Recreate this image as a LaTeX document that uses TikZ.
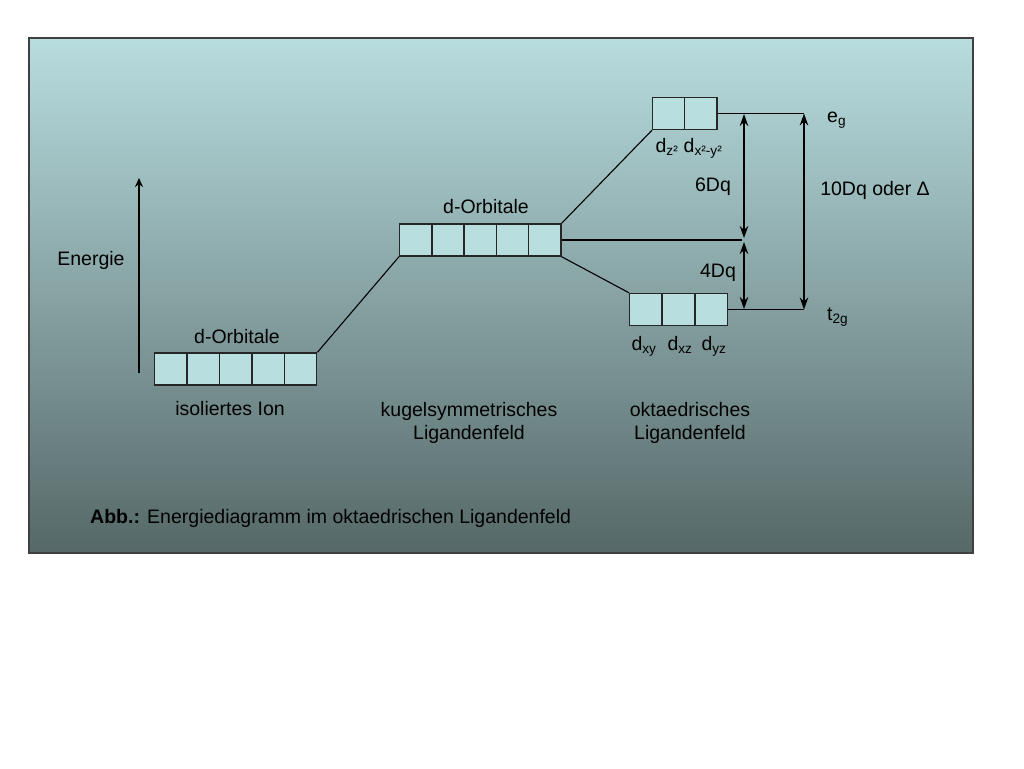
\documentclass[tikz,border=0pt]{standalone}
\usepackage{fontspec}
\setmainfont{Liberation Sans}
\usetikzlibrary{arrows.meta,positioning}
\definecolor{panelTop}{HTML}{B8DDDF}
\definecolor{panelBottom}{HTML}{566868}
\definecolor{cellFill}{HTML}{B9DEE0}
\tikzstyle{cell} = [rectangle, draw=black!85, fill=cellFill, line width=1.4pt, minimum width=32.4pt, minimum height=32pt, inner sep=0pt, anchor=west]
\tikzstyle{arrow} = [line width=1.6pt, ->, >={Stealth[length=9pt,width=8pt]}]
\tikzstyle{dblarrow} = [line width=1.6pt, <->, >={Stealth[length=12pt,width=8.5pt]}]
\tikzstyle{link} = [line width=1.1pt, -]
\tikzstyle{txt} = [font=\fontsize{19.5}{23}\selectfont, inner sep=0pt, text=black, align=center]
\begin{document}
\begin{tikzpicture}[x=1pt, y=-1pt]
\useasboundingbox (0,0) rectangle (1024,768);
\shade[top color=panelTop, bottom color=panelBottom] (29,38) rectangle (973,553);
\draw[black!75, line width=1.2pt] (29,38) rectangle (973,553);
\foreach \i in {1,...,5} \node (iso_\i) [cell] at ({154+32.4*(\i-1)},369) {};
\foreach \i in {1,...,5} \node (kug_\i) [cell] at ({399+32.2*(\i-1)},240) {};
\foreach \i in {1,2} \node (eg_\i) [cell] at ({652+32*(\i-1)},113.5) {};
\foreach \i in {1,2,3} \node (t2g_\i) [cell] at ({629+32.7*(\i-1)},309.5) {};
\coordinate (kug_end) at (742,240);
\coordinate (eg_end) at (804,113.5);
\coordinate (t2g_end) at (804,309.5);
\coordinate (e_low) at (139,373);
\coordinate (e_high) at (139,178);
\draw [link] (iso_5.north east) -- (kug_1.south west);
\draw [link] (kug_5.north east) -- (eg_1.south west);
\draw [link] (kug_5.south east) -- (t2g_1.north west);
\draw [link] (kug_5.east) -- (kug_end);
\draw [link] (eg_2.east) -- (eg_end);
\draw [link] (t2g_3.east) -- (t2g_end);
\draw [arrow] (e_low) -- (e_high);
\draw [dblarrow] (744,114) -- (744,238);
\draw [dblarrow] (744,242) -- (744,309);
\draw [dblarrow] (eg_end) -- (t2g_end);
\node (energie) [txt] at (91,260) {Energie};
\node (iso_lbl) [txt] at (237,337) {d-Orbitale};
\node (iso_name) [txt] at (230,409) {isoliertes Ion};
\node (kug_lbl) [txt] at (486,207) {d-Orbitale};
\node (kug_name) [txt] at (469,423) {kugelsymmetrisches\\Ligandenfeld};
\node (okt_name) [txt] at (690,423) {oktaedrisches\\Ligandenfeld};
\node (dz2) [txt, anchor=base] at (667,152) {d\textsubscript{z²}};
\node (dx2y2) [txt, anchor=base] at (703,152) {d\textsubscript{x²-y²}};
\node (dxy) [txt, anchor=base] at (644,350) {d\textsubscript{xy}};
\node (dxz) [txt, anchor=base] at (680,350) {d\textsubscript{xz}};
\node (dyz) [txt, anchor=base] at (714,350) {d\textsubscript{yz}};
\node (six_dq) [txt] at (713,187) {6Dq};
\node (four_dq) [txt] at (718,273) {4Dq};
\node (ten_dq) [txt] at (875,190) {10Dq oder Δ};
\node (eg_lbl) [txt, anchor=base west] at (827,122) {e\textsubscript{g}};
\node (t2g_lbl) [txt, anchor=base west] at (827,320) {t\textsubscript{2g}};
\node (caption) [txt, anchor=west] at (90,518) {\textbf{Abb.:} Energiediagramm im oktaedrischen Ligandenfeld};
\end{tikzpicture}
\end{document}
